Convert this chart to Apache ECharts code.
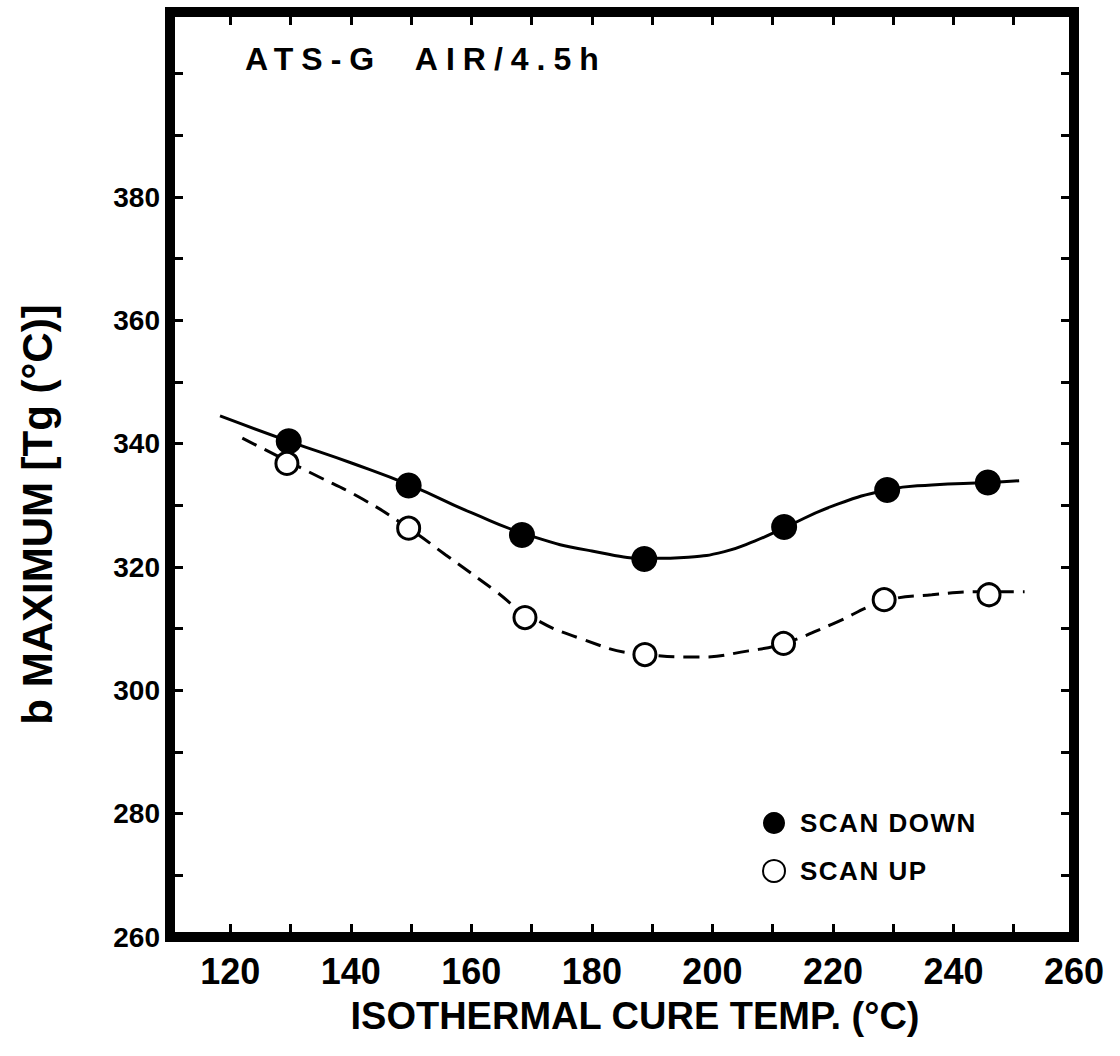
<!DOCTYPE html>
<html>
<head>
<meta charset="utf-8">
<script src="https://cdn.jsdelivr.net/npm/echarts@6/dist/echarts.min.js"></script>
<style>
html,body{margin:0;padding:0;background:#fff;}
#chart{width:1120px;height:1056px;}
#chart text{white-space:pre;}
</style>
</head>
<body>
<div id="chart"></div>
<script>
// Measured points
const scanDownX = [129.7, 149.6, 168.4, 188.7, 211.9, 229.0, 245.7];
const scanDownY = [340.4, 333.2, 325.2, 321.3, 326.5, 332.5, 333.7];
const scanUpX = [129.4, 149.6, 168.9, 188.8, 211.8, 228.5, 245.9];
const scanUpY = [336.8, 326.3, 311.8, 305.8, 307.6, 314.7, 315.5];
// Hand-drawn fitted curves
const fitDownX = [118.3, 130, 140, 150, 160, 170, 180, 190, 196, 202, 207, 212, 220, 229, 236.4, 245.7, 250.9];
const fitDownY = [344.5, 340.3, 336.9, 333.2, 328.8, 325.0, 322.6, 321.4, 321.6, 322.5, 324.2, 326.4, 329.9, 332.5, 333.3, 333.7, 334.0];
const fitUpX = [122, 133.5, 141.8, 149.6, 155.7, 164, 168.9, 177.8, 188.8, 197.7, 206, 211.8, 219.8, 228.5, 236.4, 245.9, 251.8];
const fitUpY = [340.9, 335.2, 331.1, 326.3, 322.0, 316.1, 312.5, 308.5, 305.8, 305.4, 306.4, 307.6, 310.7, 314.4, 315.5, 316.0, 316.0];
// Axes
const xMin = 110, xMax = 260, xStep = 10, xLabelStep = 20;
const yMin = 260, yMax = 410, yStep = 10, yLabelStep = 20, yLabelMax = 380;
const titleText = 'ATS-G  AIR/4.5h';
const xName = 'ISOTHERMAL CURE TEMP. (°C)';
const yName = 'b MAXIMUM [Tg (°C)]';
const legendNames = ['SCAN DOWN', 'SCAN UP'];

const zip = (a, b) => a.map((v, i) => [v, b[i]]);
const SANS = '"Liberation Sans", Arial, Helvetica, sans-serif';
const NARROW = '"Liberation Sans Narrow", "Arial Narrow", "Liberation Sans", Arial, sans-serif';

const frame = {lineStyle: {color: '#000', width: 10, cap: 'square'}};
const tick = {show: true, inside: true, length: 13, lineStyle: {color: '#000', width: 3}};

const chart = echarts.init(document.getElementById('chart'), null, {renderer: 'svg'});
chart.setOption({
  animation: false,
  backgroundColor: '#fff',
  title: {
    text: titleText, left: 240, top: 38,
    textStyle: {fontFamily: SANS, fontWeight: 'bold', fontSize: 32, color: '#000'}
  },
  grid: {left: 170, right: 46, top: 12, bottom: 119},
  legend: {
    data: legendNames, orient: 'vertical', left: 757, top: 805,
    itemWidth: 42, itemHeight: 22, itemGap: 22, icon: 'circle',
    textStyle: {fontFamily: SANS, fontWeight: 'bold', fontSize: 26, color: '#000'}
  },
  xAxis: [{
    type: 'value', min: xMin, max: xMax, interval: xStep, position: 'bottom',
    axisLine: frame, axisTick: tick, splitLine: {show: false},
    axisLabel: {margin: 16, color: '#000', fontFamily: NARROW, fontWeight: 'bold', fontSize: 36,
      formatter: v => (v % xLabelStep === 0 ? String(v) : '')},
    name: xName, nameLocation: 'middle', nameGap: 60,
    nameTextStyle: {fontFamily: SANS, fontWeight: 'bold', fontSize: 38, color: '#000', padding: [0, 0, 0, 26]}
  }, {
    type: 'value', min: xMin, max: xMax, interval: xStep, position: 'top',
    axisLine: frame, axisTick: tick, splitLine: {show: false}, axisLabel: {show: false}
  }],
  yAxis: [{
    type: 'value', min: yMin, max: yMax, interval: yStep, position: 'left',
    axisLine: frame, axisTick: tick, splitLine: {show: false},
    axisLabel: {margin: 10, color: '#000', fontFamily: SANS, fontWeight: 'bold', fontSize: 28,
      formatter: v => (v % yLabelStep === 0 && v <= yLabelMax ? String(v) : '')},
    name: yName, nameLocation: 'middle', nameGap: 112, nameRotate: 90,
    nameTextStyle: {fontFamily: SANS, fontWeight: 'bold', fontSize: 42, color: '#000', padding: [0, 80, 0, 0]}
  }, {
    type: 'value', min: yMin, max: yMax, interval: yStep, position: 'right',
    axisLine: frame, axisTick: tick, splitLine: {show: false}, axisLabel: {show: false}
  }],
  series: [
    {name: 'fit down', type: 'line', data: zip(fitDownX, fitDownY), smooth: 0.5, showSymbol: false, symbol: 'none',
      lineStyle: {color: '#000', width: 3}, z: 1, silent: true},
    {name: 'fit up', type: 'line', data: zip(fitUpX, fitUpY), smooth: 0.5, showSymbol: false, symbol: 'none',
      lineStyle: {color: '#000', width: 3, type: [16, 9]}, z: 1, silent: true},
    {name: 'SCAN DOWN', type: 'scatter', data: zip(scanDownX, scanDownY), symbol: 'circle', symbolSize: 26,
      itemStyle: {color: '#000', opacity: 1}, z: 3},
    {name: 'SCAN UP', type: 'scatter', data: zip(scanUpX, scanUpY), symbol: 'circle', symbolSize: 22,
      itemStyle: {color: '#fff', borderColor: '#000', borderWidth: 3, opacity: 1}, z: 3}
  ]
});

function trackText() {
  document.querySelectorAll('#chart text').forEach(t => {
    if (t.textContent === titleText) {
      t.style.letterSpacing = '8px';
    } else if (legendNames.indexOf(t.textContent) >= 0) {
      t.style.letterSpacing = '1.5px';
    }
  });
}
chart.on('finished', trackText);
trackText();
</script>
</body>
</html>
